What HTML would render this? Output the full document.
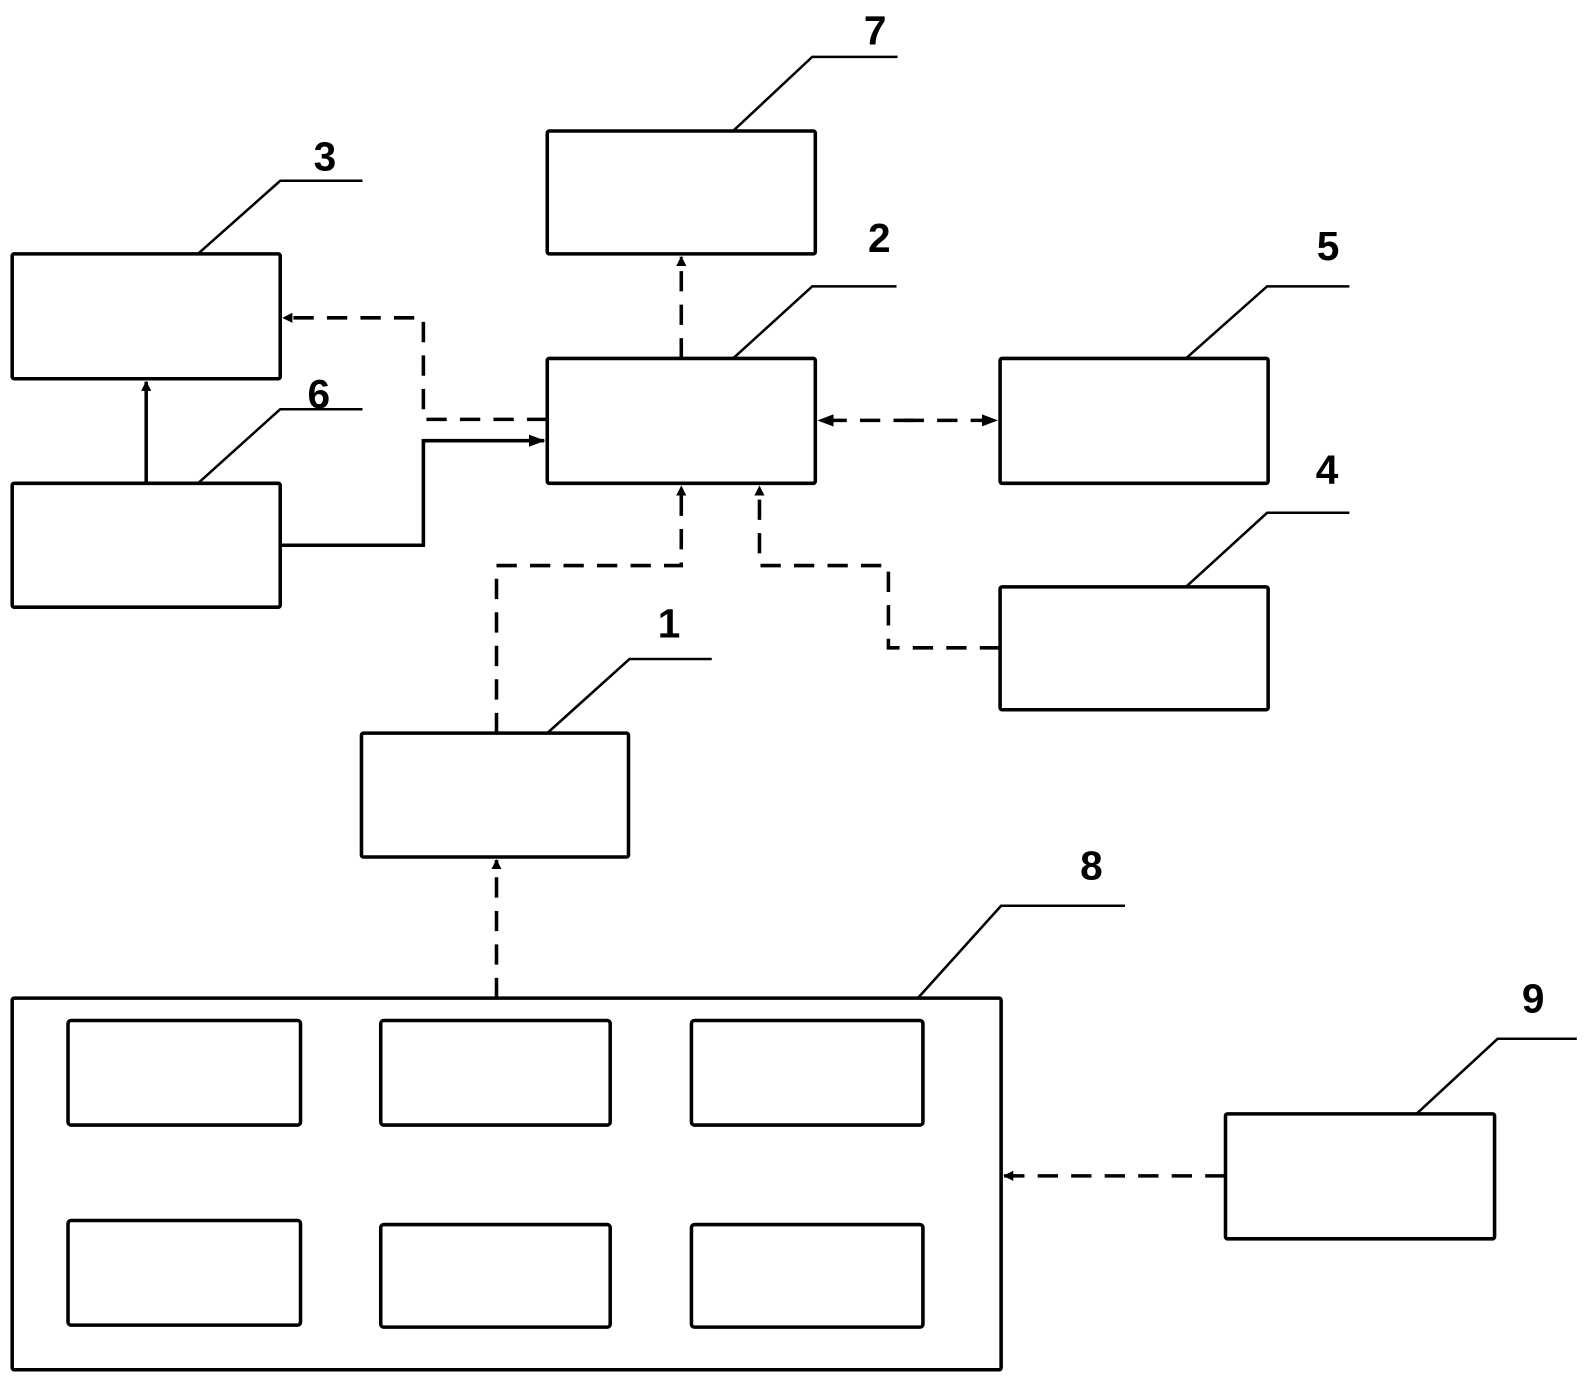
<!DOCTYPE html>
<html><head><meta charset="utf-8"><style>html,body{margin:0;padding:0;background:#fff}svg{display:block}</style></head>
<body>
<svg width="1590" height="1384" viewBox="0 0 1566 1363" preserveAspectRatio="none" xmlns="http://www.w3.org/2000/svg">
<defs>
<marker id="a" markerWidth="10" markerHeight="10" refX="9" refY="5" orient="auto" markerUnits="userSpaceOnUse"><path d="M0,0 L10,5 L0,10 Z" fill="#000"/></marker>
<marker id="b" markerWidth="16" markerHeight="12" refX="15" refY="6" orient="auto" markerUnits="userSpaceOnUse"><path d="M0,0 L16,6 L0,12 Z" fill="#000"/></marker>
</defs>
<g fill="none" stroke="#000" stroke-width="3.5">
<rect x="539" y="129" width="264" height="121" rx="2"/>
<rect x="12" y="250" width="264" height="123" rx="2"/>
<rect x="12" y="476" width="264" height="122" rx="2"/>
<rect x="539" y="353" width="264" height="123" rx="2"/>
<rect x="985" y="353" width="264" height="123" rx="2"/>
<rect x="985" y="578" width="264" height="121" rx="2"/>
<rect x="356" y="722" width="263" height="122" rx="2"/>
<rect x="12" y="983" width="974" height="366" rx="2"/>
<rect x="67" y="1005" width="229" height="103" rx="3"/>
<rect x="375" y="1005" width="226" height="103" rx="3"/>
<rect x="681" y="1005" width="228" height="103" rx="3"/>
<rect x="67" y="1202" width="229" height="103" rx="3"/>
<rect x="375" y="1206" width="226" height="101" rx="3"/>
<rect x="681" y="1206" width="228" height="101" rx="3"/>
<rect x="1207" y="1097" width="265" height="123" rx="2"/>
</g>
<g fill="none" stroke="#000" stroke-width="2.5">
<polyline points="722,129 800,56 884,56"/>
<polyline points="195,250 276,178 357,178"/>
<polyline points="195,476 276,403 357,403"/>
<polyline points="722,353 800,282 883,282"/>
<polyline points="1168,353 1248,282 1329,282"/>
<polyline points="1168,578 1248,505 1329,505"/>
<polyline points="539,722 620,649 701,649"/>
<polyline points="904,983 986,892 1108,892"/>
<polyline points="1395,1097 1475,1023 1553,1023"/>
</g>
<g fill="none" stroke="#000" stroke-width="3.5">
<line x1="144" y1="476" x2="144" y2="376" marker-end="url(#a)"/>
<polyline points="276,537 417,537 417,434 536,434" marker-end="url(#b)"/>
</g>
<g fill="none" stroke="#000" stroke-width="3.5" stroke-dasharray="20,13">
<line x1="671" y1="353" x2="671" y2="253" marker-end="url(#a)"/>
<polyline points="539,413 417,413 417,313 279,313" marker-end="url(#a)"/>
<line x1="900" y1="414" x2="806" y2="414" marker-end="url(#b)"/>
<line x1="890" y1="414" x2="982" y2="414" marker-end="url(#b)"/>
<polyline points="489,722 489,557 671,557 671,479" marker-end="url(#a)"/>
<polyline points="985,638 875,638 875,557 748,557 748,479" marker-end="url(#a)"/>
<line x1="489" y1="983" x2="489" y2="847" marker-end="url(#a)"/>
<line x1="1207" y1="1158" x2="989" y2="1158" marker-end="url(#a)"/>
</g>
<g font-family="'Liberation Sans', sans-serif" font-size="40" font-weight="bold" fill="#000" text-anchor="middle">
<text x="862" y="44">7</text>
<text x="320" y="168">3</text>
<text x="314" y="402">6</text>
<text x="866" y="248">2</text>
<text x="1308" y="256">5</text>
<text x="1307" y="476">4</text>
<text x="659" y="628">1</text>
<text x="1075" y="866">8</text>
<text x="1510" y="997">9</text>
</g>
</svg>
</body></html>
